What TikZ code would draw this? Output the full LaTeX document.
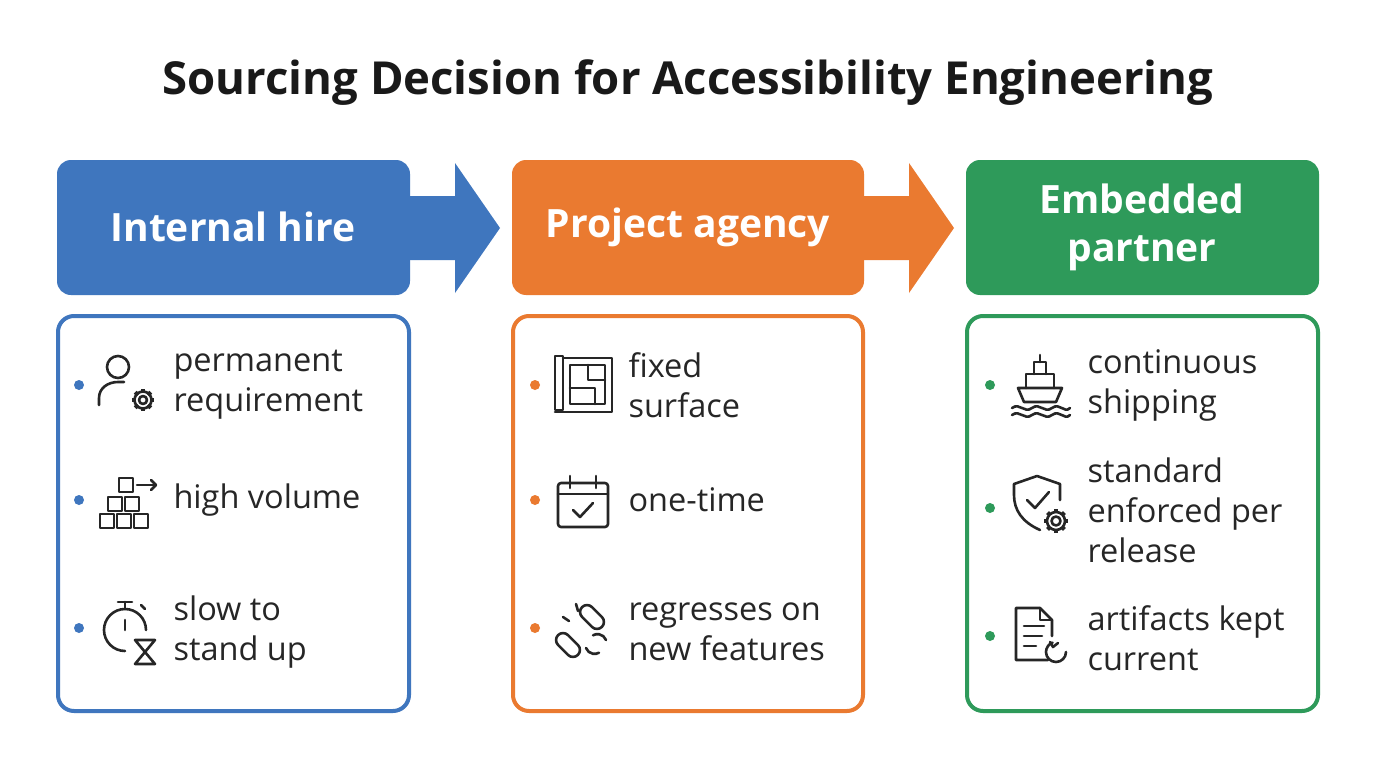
\documentclass[tikz,border=0pt]{standalone}
\usepackage{fontspec}
\setmainfont{Open Sans}
\usetikzlibrary{calc}
\definecolor{cb}{HTML}{3F76BE}
\definecolor{co}{HTML}{EA7A30}
\definecolor{cg}{HTML}{2E9A5A}
\begin{document}
\begin{tikzpicture}[x=1pt,y=-1pt,
 head/.style={fill=#1,rounded corners=14pt,draw=none},
 body/.style={draw=#1,line width=4pt,rounded corners=16pt,fill=white},
 htxt/.style={text=white,font=\fontsize{39}{48}\selectfont\bfseries,align=center},
 itxt/.style={anchor=west,align=left,font=\fontsize{32.5}{40}\selectfont,text=black!85},
 dot/.style={circle,fill=#1,inner sep=0pt,minimum size=10pt},
 ic/.style={line width=2.6pt,draw=black!85,line cap=round,line join=round},
 arr/.style={fill=#1}]
\useasboundingbox (0,0) rectangle (1376,768);
\fill[white] (0,0) rectangle (1376,768);
\node[font=\fontsize{45.5}{52}\selectfont\bfseries,text=black!90] (title) at (688,83) {Sourcing Decision for Accessibility Engineering};
% arrows
\fill[cb] (405,196) -- (455,196) -- (455,163) -- (500,228) -- (455,293) -- (455,260) -- (405,260) -- cycle;
\fill[co] (859,196) -- (909,196) -- (909,163) -- (954,228) -- (909,293) -- (909,260) -- (859,260) -- cycle;
% headers
\fill[head=cb] (57,160) rectangle (410,295);
\fill[head=co] (512,160) rectangle (864,295);
\fill[head=cg] (966,160) rectangle (1319,295);
\node[htxt] (h1) at (233,227) {Internal hire};
\node[htxt] (h2) at (688,227) {Project agency};
\node[htxt] (h3) at (1142,227) {Embedded\\partner};
% bodies
\draw[body=cb] (58,316) rectangle (409,711);
\draw[body=co] (513,316) rectangle (863,711);
\draw[body=cg] (967,316) rectangle (1318,711);
% column 1
\node[dot=cb] at (79,385) {}; \node[dot=cb] at (79,500) {}; \node[dot=cb] at (79,628) {};
\node[itxt] at (170,385) {permanent\\requirement};
\node[itxt] at (170,500) {high volume};
\node[itxt] at (170,632) {slow to\\stand up};
% person gear icon
\draw[ic] (118,367) circle (11);
\draw[ic] (99,405) -- (99,398) .. controls (99,388) and (108,382) .. (118,382) -- (124,382);
\foreach \a in {0,45,...,315} \draw[line width=4pt,draw=black!85] ($(143,400)+(\a:7)$) -- ($(143,400)+(\a:11)$);
\fill[white] (143,400) circle (5.5); \draw[ic] (143,400) circle (4);
\draw[ic] (143,400) circle (8.5);
% blocks icon
\foreach \x in {100,117,134} \draw[ic] (\x,514) rectangle ++(14,14);
\foreach \x in {108,125} \draw[ic] (\x,497) rectangle ++(14,14);
\draw[ic] (119,478) rectangle ++(14,14);
\draw[ic] (137,485) -- (156,485); \draw[ic] (151,480) -- (156,485) -- (151,490);
% stopwatch hourglass
\draw[ic] (125,630) ++(90:21) arc (90:360:21);
\draw[ic] (118,602) -- (132,602); \draw[ic] (125,602)--(125,609);
\draw[ic] (141,605)--(145,609);
\draw[ic] (125,630) -- (125,620);
\draw[ic] (135,640) -- (155,640) -- (145,652) -- (155,664) -- (135,664) -- (145,652) -- cycle;
% column 2
\node[dot=co] at (535,385) {}; \node[dot=co] at (535,500) {}; \node[dot=co] at (535,628) {};
\node[itxt] at (625,385) {fixed\\surface};
\node[itxt] at (625,500) {one-time};
\node[itxt] at (625,632) {regresses on\\new features};
% blueprint
\draw[ic] (555,356) rectangle (563,410);
\draw[ic] (563,358) -- (612,358) -- (612,412) -- (555,412);
\draw[ic] (570,365) rectangle (605,404);
\draw[ic] (588,365) -- (588,380) -- (605,380); \draw[ic] (570,388) -- (595,388) -- (595,404);
% calendar
\draw[ic,rounded corners=3pt] (558,483) rectangle (608,527); \draw[ic] (558,494) -- (608,494);
\draw[ic] (570,476)--(570,488); \draw[ic] (596,476)--(596,488);
\draw[ic] (573,510) -- (580,517) -- (593,503);
% broken link
\draw[ic,rounded corners=7pt,rotate around={-45:(568,645)}] (554,638) rectangle (582,652);
\draw[ic,rounded corners=7pt,rotate around={-45:(592,617)}] (578,610) rectangle (606,624);
\draw[ic] (563,617) -- (569,621); \draw[ic] (576,604)--(578,611);
\draw[ic] (586,648) arc (160:60:9); \draw[ic] (606,640) arc (-20:-120:9);
% column 3
\node[dot=cg] at (990,385) {}; \node[dot=cg] at (990,508) {}; \node[dot=cg] at (990,636) {};
\node[itxt] at (1084,385) {continuous\\shipping};
\node[itxt] at (1084,510) {standard\\enforced per\\release};
\node[itxt] at (1084,638) {artifacts kept\\current};
% ship
\draw[ic] (1018,388) -- (1062,388) -- (1056,402) -- (1024,402) -- cycle;
\draw[ic] (1026,388) -- (1026,374) -- (1054,374) -- (1054,388);
\draw[ic] (1034,374) -- (1034,362) -- (1046,362) -- (1046,374);
\draw[ic] (1040,355)--(1040,362);
\draw[ic] (1012,408) .. controls (1020,402) and (1024,414) .. (1032,408) .. controls (1040,402) and (1044,414) .. (1052,408) .. controls (1060,402) and (1064,414) .. (1070,408);
\draw[ic] (1012,415) .. controls (1020,409) and (1024,421) .. (1032,415) .. controls (1040,409) and (1044,421) .. (1052,415) .. controls (1060,409) and (1064,421) .. (1070,415);
% shield gear
\draw[ic] (1040,530) .. controls (1022,522) and (1014,510) .. (1014,495) -- (1014,484) -- (1037,476) -- (1060,484) -- (1060,500);
\draw[ic] (1027,500) -- (1035,508) -- (1049,492);
\foreach \a in {0,45,...,315} \draw[line width=4pt,draw=black!85] ($(1056,521)+(\a:8)$) -- ($(1056,521)+(\a:12)$);
\fill[white] (1056,521) circle (6); \draw[ic] (1056,521) circle (4.5); \draw[ic] (1056,521) circle (9);
% document refresh
\draw[ic] (1048,660) -- (1016,660) -- (1016,608) -- (1040,608) -- (1052,620) -- (1052,636);
\draw[ic] (1040,608) -- (1040,620) -- (1052,620);
\draw[ic] (1024,626)--(1044,626); \draw[ic] (1024,636)--(1042,636); \draw[ic] (1024,646)--(1036,646);
\draw[ic] (1066,652) arc (0:250:10); \draw[ic] (1050,642)--(1053,647)--(1058,643);
\end{tikzpicture}
\end{document}
